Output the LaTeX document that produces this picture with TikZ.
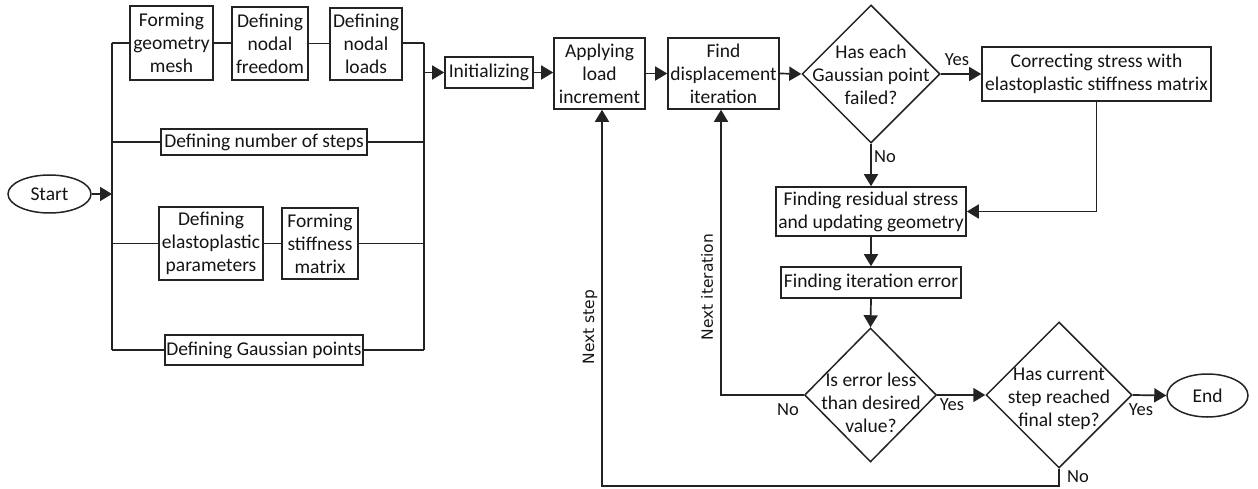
\documentclass[tikz,border=0pt]{standalone}
\usepackage{fontspec}
\setmainfont{Carlito}
\newfontfamily\vfont{DejaVu Sans}
\usetikzlibrary{shapes.geometric,arrows.meta}
\definecolor{lc}{RGB}{35,35,35}
\definecolor{tc}{RGB}{20,20,20}
\newcommand{\fs}{\fontsize{19.5}{23}\selectfont}
\begin{document}
\begin{tikzpicture}[x=1pt,y=-1pt,
  line width=1.7pt, draw=lc, color=lc,
  box/.style={draw=lc, line width=1.6pt, align=center, inner sep=0pt, text=tc, font=\fs},
  dia/.style={diamond, draw=lc, line width=1.5pt, inner sep=0pt, aspect=1},
  ell/.style={ellipse, draw=lc, line width=1.5pt, inner sep=0pt, text=tc, font=\fs},
  txt/.style={align=center, inner sep=0pt, text=tc, font=\fs},
  lbl/.style={inner sep=0pt, text=tc, font=\fontsize{18.5}{22}\selectfont},
  vlbl/.style={inner sep=0pt, text=tc, font=\vfont\fontsize{15.5}{18}\selectfont, rotate=90},
  arr/.style={-{Triangle[length=12pt,width=14pt]}}]
\useasboundingbox (0,0) rectangle (1258,489);
% nodes
\node[ell, minimum width=83pt, minimum height=38pt] (start) at (49.5,194) {Start};
\node[box, minimum width=83pt, minimum height=74pt] (fgm) at (171.5,43) {Forming\\geometry\\mesh};
\node[box, minimum width=76pt, minimum height=73pt] (fnf) at (270,43.5) {Defining\\nodal\\freedom};
\node[box, minimum width=72pt, minimum height=72pt] (fnl) at (366,44) {Defining\\nodal\\loads};
\node[box, minimum width=206pt, minimum height=26pt] (dns) at (264,142) {Defining number of steps};
\node[box, minimum width=104pt, minimum height=73pt] (dep) at (211,243.5) {Defining\\elastoplastic\\parameters};
\node[box, minimum width=76pt, minimum height=71pt] (fsm) at (320,243.5) {Forming\\stiffness\\matrix};
\node[box, minimum width=198pt, minimum height=30pt] (dgp) at (264,350) {Defining Gaussian points};
\node[box, minimum width=88pt, minimum height=31pt] (ini) at (489,72.5) {Initializing};
\node[box, minimum width=91pt, minimum height=71pt] (ali) at (599.5,73.5) {Applying\\load\\increment};
\node[box, minimum width=111pt, minimum height=71pt] (fdi) at (723.5,73.5) {Find\\displacement\\iteration};
\node[dia, minimum width=138pt, minimum height=138pt] (d1) at (871,74) {};
\node[txt] at (871,75) {Has each\\Gaussian point\\failed?};
\node[box, minimum width=229pt, minimum height=54pt] (csm) at (1096.5,74) {Correcting stress with\\elastoplastic stiffness matrix};
\node[box, minimum width=190pt, minimum height=49pt] (res) at (871,211.5) {Finding residual stress\\and updating geometry};
\node[box, minimum width=180pt, minimum height=31pt] (ite) at (871,282.5) {Finding iteration error};
\node[dia, minimum width=132pt, minimum height=134pt] (d2) at (870.5,395) {};
\node[txt] at (871,403) {Is error less\\than desired\\value?};
\node[dia, minimum width=146pt, minimum height=146pt] (d3) at (1059,395) {};
\node[txt] at (1059,399) {Has current\\step reached\\final step?};
\node[ell, minimum width=81pt, minimum height=43pt] (end) at (1207.5,395.5) {End};
% bus coordinates
\coordinate (lt) at (112,43);
\coordinate (lb) at (112,350);
\coordinate (rt) at (424,43);
\coordinate (rb) at (424,350);
\coordinate (nb) at (602,486);
\coordinate (ni) at (721,395);
% connectors
\draw (lt) -- (lb);
\draw (rt) -- (rb);
\draw (lt) -- (fgm.west);
\draw (fgm.east) -- (fnf.west |- fgm.east);
\draw (fnf.east) -- (fnl.west |- fnf.east);
\draw (fnl.east |- rt) -- (rt);
\draw (dns.west -| lt) -- (dns.west);
\draw (dns.east) -- (dns.east -| rt);
\draw (dep.west -| lt) -- (dep.west);
\draw (dep.east) -- (fsm.west |- dep.east);
\draw (fsm.east) -- (fsm.east -| rt);
\draw (dgp.west -| lt) -- (dgp.west);
\draw (dgp.east) -- (dgp.east -| rt);
\draw[arr] (start.east) -- (start.east -| lt);
\draw[arr] (ini.west -| rt) -- (ini.west);
\draw[arr] (ini.east) -- (ini.east -| ali.west);
\draw[arr] (ali.east) -- (fdi.west |- ali.east);
\draw[arr] (fdi.east) -- (d1.west);
\draw[arr] (d1.east) -- (csm.west);
\draw[arr] (d1.south) -- (res.north);
\draw[arr] (csm.south) |- (res.east);
\draw[arr] (res.south) -- (ite.north);
\draw[arr] (ite.south) -- (d2.north);
\draw[arr] (d2.east) -- (d3.west);
\draw[arr] (d3.east) -- (end.west);
\draw[arr] (d3.south) |- (nb) -- (ali.south -| nb);
\draw[arr] (d2.west) -- (ni) -- (fdi.south -| ni);
% labels
\node[lbl] (y1) at (957,60) {Yes};
\node[lbl] (n1) at (885,157) {No};
\node[lbl] (n2) at (788,410) {No};
\node[lbl] (y2) at (952,405) {Yes};
\node[lbl] (y3) at (1141,410) {Yes};
\node[lbl] (n3) at (1078,477) {No};
\node[vlbl] (ns) at (590,327) {Next step};
\node[vlbl] (nit) at (707,287) {Next iteration};
\end{tikzpicture}
\end{document}
